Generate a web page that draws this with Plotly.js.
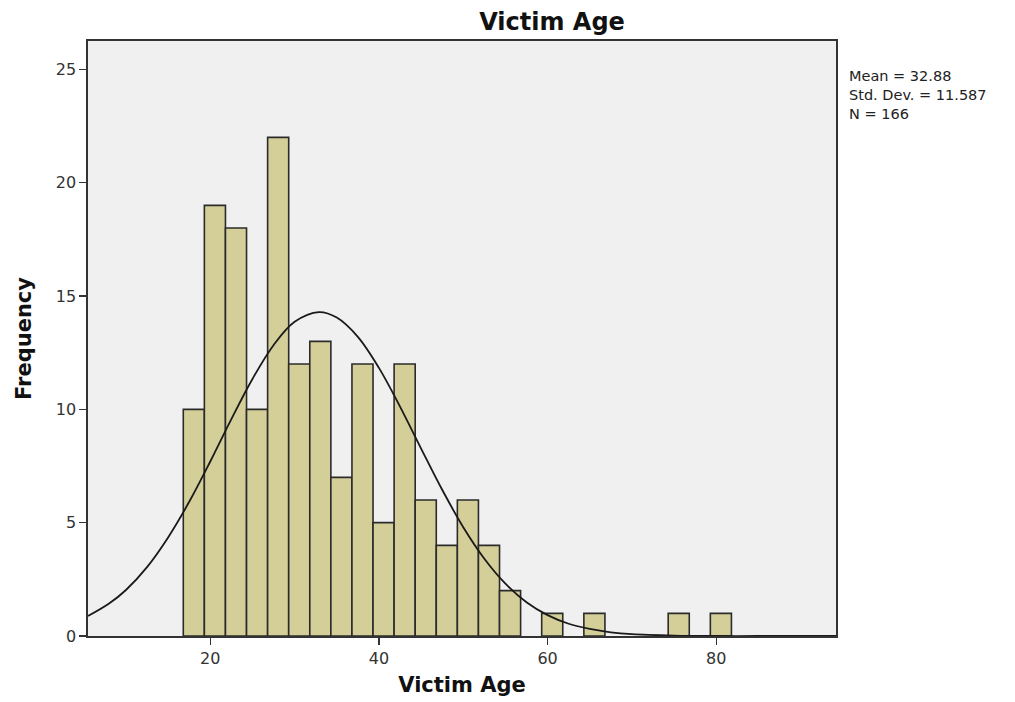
<!DOCTYPE html>
<html>
<head>
<meta charset="utf-8">
<script src="https://cdn.plot.ly/plotly-3.0.1.min.js"></script>
<style>
  html, body { margin: 0; padding: 0; background: #ffffff; }
  #chart { width: 1015px; height: 702px; }
</style>
</head>
<body>
<div id="chart"></div>
<script>
// Histogram bins (centre of each 2.5-year bin) and frequencies
var binCenters = [18.05, 20.55, 23.05, 25.55, 28.05, 30.55, 33.05, 35.55, 38.05, 40.55,
                  43.05, 45.55, 48.05, 50.55, 53.05, 55.55, 58.05, 60.55, 63.05, 65.55,
                  68.05, 70.55, 73.05, 75.55, 78.05, 80.55];
var frequencies = [10, 19, 18, 10, 22, 12, 13, 7, 12, 5,
                   12, 6, 4, 6, 4, 2, 0, 1, 0, 1,
                   0, 0, 0, 1, 0, 1];
var binWidth = 2.5;

// Fitted normal curve
var curveX = [5.5, 8, 10, 12.5, 15, 17.5, 20, 22.5, 25, 27.5, 30, 32.88, 35, 37.5, 40,
              42.5, 45, 47.5, 50, 52.5, 55, 57.5, 60, 62.5, 65, 67.5, 70, 75, 80, 85, 90, 94.2];
var curveY = [0.88, 1.43, 2.03, 3.04, 4.35, 5.92, 7.70, 9.57, 11.34, 12.83, 13.86, 14.29, 14.05, 13.20, 11.83,
              10.12, 8.27, 6.45, 4.80, 3.41, 2.31, 1.49, 0.92, 0.54, 0.31, 0.16, 0.08, 0.02, 0.0, 0.0, 0.0, 0.0];

var statsLines = ["Mean = 32.88", "Std. Dev. = 11.587", "N = 166"];
var xTicks = [20, 40, 60, 80];
var yTicks = [0, 5, 10, 15, 20, 25];

var bx = [], by = [];
for (var i = 0; i < binCenters.length; i++) {
  if (frequencies[i] > 0) { bx.push(binCenters[i]); by.push(frequencies[i]); }
}

var FONT = "'DejaVu Sans', Verdana, sans-serif";

var traces = [
  {
    type: "bar",
    x: bx,
    y: by,
    width: binWidth,
    marker: { color: "#d4cf98", line: { color: "#2b2b2b", width: 1.6 } },
    hoverinfo: "x+y",
    showlegend: false
  },
  {
    type: "scatter",
    mode: "lines",
    x: curveX,
    y: curveY,
    line: { color: "#1a1a1a", width: 1.8, shape: "spline" },
    hoverinfo: "skip",
    showlegend: false
  }
];

var layout = {
  width: 1015,
  height: 702,
  margin: { l: 88, r: 179, t: 41, b: 66 },
  paper_bgcolor: "#ffffff",
  plot_bgcolor: "#f0f0f0",
  font: { family: FONT, size: 14, color: "#333333" },
  title: {
    text: "<b>Victim Age</b>",
    font: { family: FONT, size: 24, color: "#111111" },
    x: 552 / 1015,
    xanchor: "center",
    xref: "container",
    y: 1 - 22 / 702,
    yanchor: "middle"
  },
  xaxis: {
    range: [5.5, 94.2],
    tickvals: xTicks,
    ticktext: xTicks.map(String),
    ticks: "outside",
    ticklen: 7,
    tickwidth: 1.5,
    tickcolor: "#333333",
    showgrid: false,
    zeroline: false,
    showline: true,
    linecolor: "#333333",
    linewidth: 1.6,
    mirror: true,
    tickfont: { family: FONT, size: 16, color: "#333333" },
    title: { text: "<b>Victim Age</b>", font: { family: FONT, size: 21, color: "#111111" }, standoff: 10 }
  },
  yaxis: {
    range: [0, 26.25],
    tickvals: yTicks,
    ticktext: yTicks.map(String),
    ticks: "outside",
    ticklen: 7,
    tickwidth: 1.5,
    tickcolor: "#333333",
    showgrid: false,
    zeroline: false,
    showline: true,
    linecolor: "#333333",
    linewidth: 1.6,
    mirror: true,
    tickfont: { family: FONT, size: 16, color: "#333333" },
    title: { text: "<b>Frequency</b>", font: { family: FONT, size: 21, color: "#111111" }, standoff: 18 }
  },
  bargap: 0,
  annotations: [
    {
      xref: "paper", yref: "paper",
      x: 760 / 748, y: 1 - 54 / 595,
      xanchor: "left", yanchor: "middle",
      align: "left",
      showarrow: false,
      borderpad: 0,
      text: statsLines.join("<br>"),
      font: { family: FONT, size: 14.5, color: "#222222" }
    }
  ]
};

Plotly.newPlot("chart", traces, layout, { displayModeBar: false, staticPlot: true });
</script>
</body>
</html>
